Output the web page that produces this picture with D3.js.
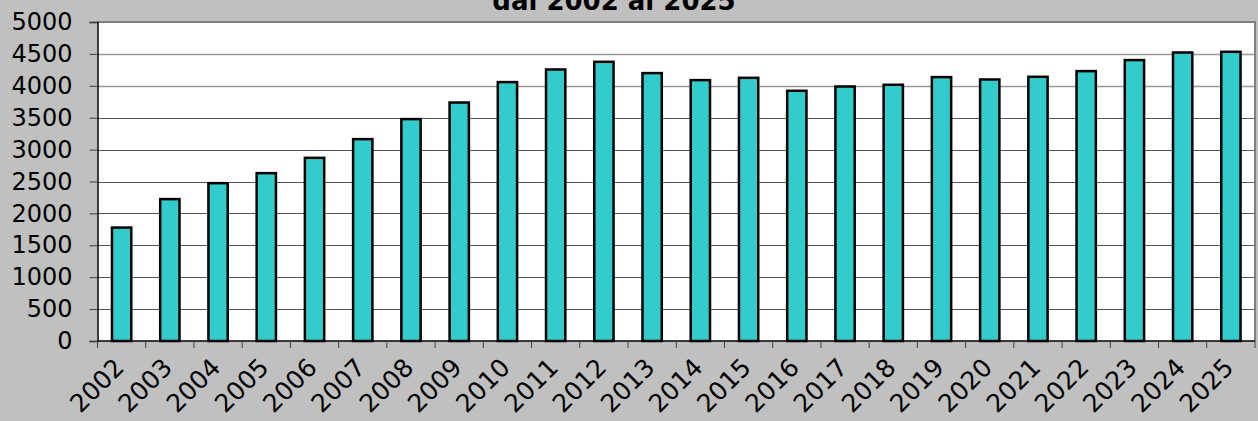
<!DOCTYPE html>
<html>
<head>
<meta charset="utf-8">
<script src="https://cdn.jsdelivr.net/npm/d3@7"></script>
<style>
  html, body { margin: 0; padding: 0; background: #c0c0c0; }
  svg { display: block; }
  text { font-family: Verdana, "DejaVu Sans", sans-serif; }
</style>
</head>
<body>
<svg id="chart" width="1258" height="421"></svg>
<script>
const years = ["2002", "2003", "2004", "2005", "2006", "2007", "2008", "2009", "2010", "2011", "2012", "2013",
  "2014", "2015", "2016", "2017", "2018", "2019", "2020", "2021", "2022", "2023", "2024", "2025"];
const values = [1778, 2224, 2474, 2631, 2871, 3164, 3478, 3738, 4058, 4256, 4376, 4199,
  4089, 4125, 3922, 3989, 4016, 4136, 4099, 4141, 4230, 4403, 4522, 4533];
const yTicks = [0, 500, 1000, 1500, 2000, 2500, 3000, 3500, 4000, 4500, 5000];
const title = "dal 2002 al 2025";

const svg = d3.select("#chart");
const plot = { left: 97.5, right: 1255, top: 22, bottom: 341 };

const x = d3.scaleBand()
  .domain(years)
  .range([plot.left, plot.right])
  .paddingInner(0.6)
  .paddingOuter(0.3);

const y = d3.scaleLinear()
  .domain([0, 5000])
  .range([plot.bottom, plot.top]);

// plot area
svg.append("rect")
  .attr("x", plot.left)
  .attr("y", plot.top)
  .attr("width", plot.right - plot.left)
  .attr("height", plot.bottom - plot.top)
  .attr("fill", "#fff");

// gridlines
svg.append("g")
  .selectAll("line")
  .data(yTicks.filter(d => d > 0 && d < 5000))
  .enter()
  .append("line")
  .attr("x1", plot.left)
  .attr("x2", plot.right)
  .attr("y1", d => Math.round(y(d)) + 0.5)
  .attr("y2", d => Math.round(y(d)) + 0.5)
  .attr("stroke", d => d >= 4000 ? "#999" : "#555")
  .attr("stroke-width", d => d >= 4000 ? 1.5 : 1);

// frame top and right (gray)
svg.append("path")
  .attr("d", `M${plot.left},${plot.top}H${plot.right}V${plot.bottom}`)
  .attr("fill", "none")
  .attr("stroke", "#808080")
  .attr("stroke-width", 2);

// bars
svg.append("g")
  .selectAll("rect")
  .data(years.map((d, i) => ({ year: d, value: values[i] })))
  .enter()
  .append("rect")
  .attr("x", d => x(d.year))
  .attr("y", d => y(d.value))
  .attr("width", x.bandwidth())
  .attr("height", d => y(0) - y(d.value))
  .attr("fill", "#33cccc")
  .attr("stroke", "#000")
  .attr("stroke-width", 2.5);

// y axis
const yAxis = svg.append("g")
  .attr("transform", `translate(${plot.left},0)`)
  .call(d3.axisLeft(y).tickValues(yTicks).tickFormat(d3.format("d")).tickSize(8).tickPadding(17));
yAxis.select(".domain").attr("stroke", "#000").attr("stroke-width", 1.5);
yAxis.selectAll(".tick line").attr("stroke", "#404040");
yAxis.selectAll("text")
  .attr("font-size", 24)
  .attr("fill", "#000")
  .attr("font-family", "Verdana, 'DejaVu Sans', sans-serif");

// x axis line
svg.append("line")
  .attr("x1", plot.left)
  .attr("x2", plot.right)
  .attr("y1", plot.bottom)
  .attr("y2", plot.bottom)
  .attr("stroke", "#000")
  .attr("stroke-width", 1.5);

// x ticks at category boundaries
const step = x.step();
const bounds = years.map(d => x(d) - step * 0.3).concat([plot.right]);
svg.append("g")
  .selectAll("line")
  .data(bounds)
  .enter()
  .append("line")
  .attr("x1", d => d)
  .attr("x2", d => d)
  .attr("y1", plot.bottom)
  .attr("y2", plot.bottom + 7)
  .attr("stroke", "#404040");

// x labels
svg.append("g")
  .selectAll("text")
  .data(years)
  .enter()
  .append("text")
  .attr("transform", d => `translate(${x(d) + x.bandwidth() / 2 + 4},${plot.bottom + 28}) rotate(-45)`)
  .attr("text-anchor", "end")
  .attr("font-size", 25)
  .attr("fill", "#000")
  .text(d => d);

// title
svg.append("text")
  .attr("x", 614)
  .attr("y", 10)
  .attr("text-anchor", "middle")
  .attr("font-size", 26)
  .attr("font-weight", "bold")
  .attr("fill", "#000")
  .text(title);
</script>
</body>
</html>
